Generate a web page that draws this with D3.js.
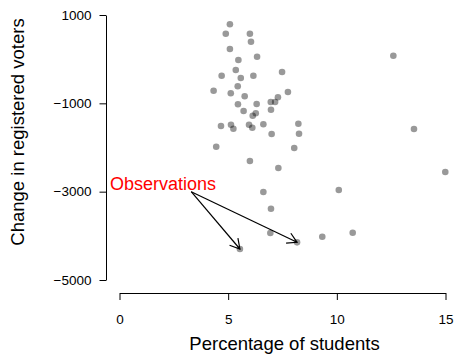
<!DOCTYPE html>
<html>
<head>
<meta charset="utf-8">
<script src="https://cdn.jsdelivr.net/npm/d3@7"></script>
<style>
  html, body { margin: 0; padding: 0; background: #fff; }
  svg { display: block; font-family: "Liberation Sans", Arial, Helvetica, sans-serif; }
  .axis path, .axis line { stroke: #000; stroke-width: 1; }
  .axis text { fill: #000; font-size: 13.5px; }
</style>
</head>
<body>
<div id="chart"></div>
<script>
/* scatter: percentage of students vs change in registered voters */
const studentPct = [
  5.08, 4.89, 6.00, 6.05, 5.08, 5.47, 6.33, 5.35, 4.70, 5.58,
  6.16, 7.48, 5.44, 4.33, 5.12, 5.76, 7.75, 7.29, 5.45, 6.31,
  6.96, 7.16, 5.71, 6.27, 6.13, 6.97, 4.67, 5.13, 5.24, 5.96,
  6.11, 6.62, 8.23, 7.00, 8.26, 4.45, 8.04, 6.00, 7.31, 6.62,
  10.09, 6.97, 6.94, 9.33, 10.73, 8.17, 5.54, 12.60, 13.55, 14.99
];
const voterChange = [
  790, 577, 577, 395, 230, -19, 56, -245, -374, -426,
  -374, -291, -614, -714, -773, -841, -743, -863, -1022, -1015,
  -970, -970, -1174, -1226, -1280, -1144, -1513, -1484, -1574, -1484,
  -1552, -1475, -1461, -1694, -1688, -1982, -2011, -2306, -2464, -3008,
  -2962, -3386, -3936, -4020, -3929, -4147, -4298, 78, -1581, -2555
];
const xTicks = [0, 5, 10, 15];
const yTicks = [1000, -1000, -3000, -5000];
const noteText = "Observations";
const notePos = [2, -2800];
const arrowFrom = [3.3, -3000];
const arrowTo = [45, 46]; // indices of the pointed-at observations

const W = 454, H = 359;
const svg = d3.select("#chart").append("svg").attr("width", W).attr("height", H);

const x = d3.scaleLinear().domain([0, 15]).range([119.5, 445.5]);
const y = d3.scaleLinear().domain([-5000, 1000]).range([280, 15]);

svg.append("g").attr("class", "axis").attr("transform", "translate(106,0)")
  .call(d3.axisLeft(y).tickValues(yTicks).tickSize(6.5).tickSizeOuter(0).tickPadding(8)
    .tickFormat(d => d < 0 ? "\u2212" + Math.abs(d) : d));
svg.append("g").attr("class", "axis").attr("transform", "translate(0,293)")
  .call(d3.axisBottom(x).tickValues(xTicks).tickSize(7).tickSizeOuter(0).tickPadding(14));
svg.selectAll(".axis .domain").attr("fill", "none");

svg.append("g").selectAll("circle").data(studentPct).join("circle")
  .attr("cx", d => x(d)).attr("cy", (d, i) => y(voterChange[i])).attr("r", 3.3)
  .attr("fill", "rgba(0,0,0,0.4)");

// annotation arrows (open heads like R arrows())
const head = 11, ang = Math.PI / 6;
const x0 = x(arrowFrom[0]), y0 = y(arrowFrom[1]);
arrowTo.forEach(i => {
  const x1 = x(studentPct[i]), y1 = y(voterChange[i]);
  const t = Math.atan2(y1 - y0, x1 - x0);
  const g = svg.append("g").attr("stroke", "#000").attr("stroke-width", 1.2).attr("fill", "none");
  g.append("line").attr("x1", x0).attr("y1", y0).attr("x2", x1).attr("y2", y1);
  g.append("path").attr("d", d3.line()([
    [x1 - head * Math.cos(t - ang), y1 - head * Math.sin(t - ang)],
    [x1, y1],
    [x1 - head * Math.cos(t + ang), y1 - head * Math.sin(t + ang)]
  ]));
});

svg.append("text").attr("x", x(notePos[0])).attr("y", y(notePos[1])).attr("dy", "0.38em")
  .attr("text-anchor", "middle").attr("fill", "#ff0000").style("font-size", "18px").text(noteText);

svg.append("text").attr("x", 284.5).attr("y", 350).attr("text-anchor", "middle")
  .style("font-size", "18.5px").text("Percentage of students");
svg.append("text").attr("transform", "translate(24,132) rotate(-90)").attr("text-anchor", "middle")
  .style("font-size", "18.5px").text("Change in registered voters");
</script>
</body>
</html>
